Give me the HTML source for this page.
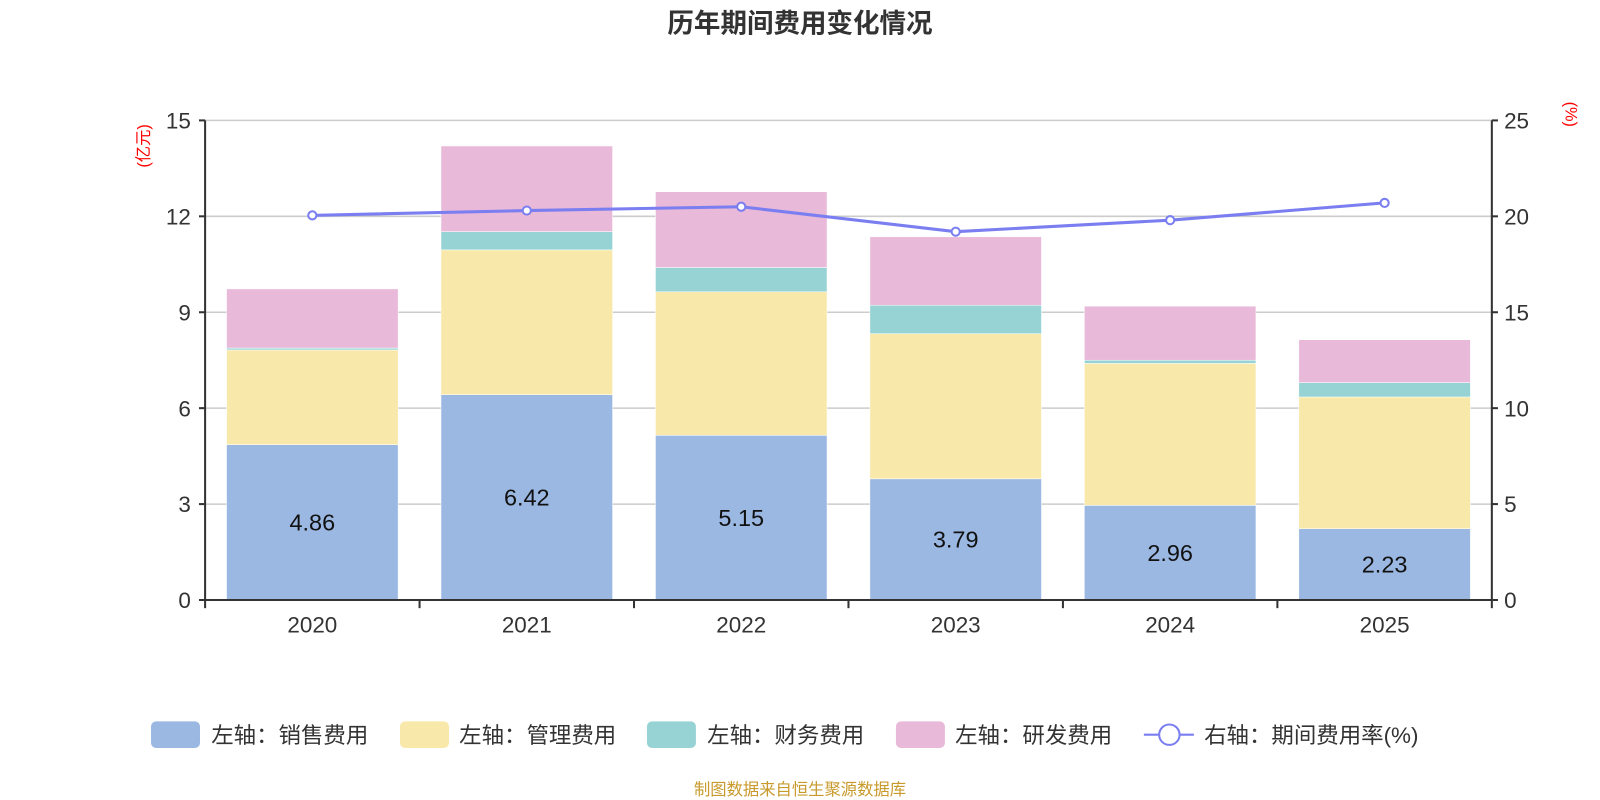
<!DOCTYPE html>
<html><head><meta charset="utf-8"><style>body{margin:0;background:#fff}svg{display:block}</style></head>
<body>
<svg id="chart" width="1600" height="800" viewBox="0 0 1568 784" xmlns="http://www.w3.org/2000/svg" font-family="Liberation Sans, Noto Sans CJK SC, sans-serif">
<text x="784" y="32" text-anchor="middle" font-size="26" font-weight="bold" fill="#333">历年期间费用变化情况</text>
<g id="grid"></g><g id="bars"></g><g id="line"></g><g id="axes"></g>
<text transform="translate(146,143) rotate(-90)" text-anchor="middle" font-size="16" fill="#f00">(亿元)</text>
<text transform="translate(1534,112) rotate(90)" text-anchor="middle" font-size="16" fill="#f00">(%)</text>
<g font-size="22" fill="#333">
<rect x="148" y="707" width="48" height="26" rx="5" fill="#9bb8e2"/>
<text x="207" y="728">左轴：销售费用</text>
<rect x="392" y="707" width="48" height="26" rx="5" fill="#f8e8a9"/>
<text x="450" y="728">左轴：管理费用</text>
<rect x="634" y="707" width="48" height="26" rx="5" fill="#97d3d4"/>
<text x="693" y="728">左轴：财务费用</text>
<rect x="878" y="707" width="48" height="26" rx="5" fill="#e8b9d8"/>
<text x="936" y="728">左轴：研发费用</text>
<line x1="1121" y1="720" x2="1170" y2="720" stroke="#7a7ef0" stroke-width="2"/>
<circle cx="1146" cy="720" r="10" fill="#fff" stroke="#7a7ef0" stroke-width="2"/>
<text x="1180" y="728">右轴：期间费用率(%)</text>
</g>
<text x="784" y="779" text-anchor="middle" font-size="16" fill="#c89a2c">制图数据来自恒生聚源数据库</text>
</svg>
<script>
const categories=["2020","2021","2022","2023","2024","2025"];
const sales=[4.86,6.42,5.15,3.79,2.96,2.23];
const admin=[2.96,4.53,4.49,4.54,4.44,4.12];
const finance=[0.06,0.57,0.76,0.89,0.10,0.45];
const rd=[1.85,2.68,2.37,2.14,1.69,1.34];
const rate=[20.05,20.3,20.5,19.2,19.8,20.7];
const leftTicks=[0,3,6,9,12,15];
const rightTicks=[0,5,10,15,20,25];
const NS="http://www.w3.org/2000/svg";
const X0=201,X1=1462,Y0=588,Y1=118;
const band=(X1-X0)/categories.length;
const yL=v=>Y0-(v/15)*(Y0-Y1);
const yR=v=>Y0-(v/25)*(Y0-Y1);
const xC=i=>X0+band*(i+0.5);
function mk(tag,attrs,parent,text){const e=document.createElementNS(NS,tag);for(const k in attrs)e.setAttribute(k,attrs[k]);if(text!==undefined)e.textContent=text;document.getElementById(parent).appendChild(e);return e;}
leftTicks.forEach((t,i)=>{
 const y=yL(t);
 if(i>0){const g=mk('line',{x1:X0,x2:X1,y1:y,y2:y,stroke:'#ccc','stroke-width':1.5},'grid');
 
 }
 const tl=mk('line',{x1:X0-6,x2:X0,y1:y,y2:y,stroke:'#333','stroke-width':2},'axes');
 
 
 const l=mk('text',{x:X0-14,y:y+8,'text-anchor':'end','font-size':22,fill:'#333'},'axes',t);
 
 
});
rightTicks.forEach(t=>{
 const y=yR(t);
 const tl=mk('line',{x1:X1,x2:X1+6,y1:y,y2:y,stroke:'#333','stroke-width':2},'axes');
 
 
 const l=mk('text',{x:X1+12,y:y+8,'text-anchor':'start','font-size':22,fill:'#333'},'axes',t);
 
 
});
const series=[[sales,'#9bb8e2','sales'],[admin,'#f8e8a9','admin'],[finance,'#97d3d4','finance'],[rd,'#e8b9d8','rd']];
const bw=band*0.8;
categories.forEach((c,i)=>{
 let base=0;
 series.forEach(([arr,col,nm])=>{
  const top=base+arr[i];
  const r=mk('rect',{x:xC(i)-bw/2,y:yL(top),width:bw,height:yL(base)-yL(top),fill:col,stroke:'#fff','stroke-width':0.5},'bars');
  
  
  base=top;
 });
 const v=mk('text',{x:xC(i),y:yL(sales[i]/2)+8,'text-anchor':'middle','font-size':23,fill:'#111'},'bars',sales[i].toFixed(2));
 
 
 const xl=mk('text',{x:xC(i),y:Y0+32,'text-anchor':'middle','font-size':22,fill:'#333'},'axes',c);
 
 
});
for(let i=0;i<=categories.length;i++){
 const x=X0+band*i;
 const t=mk('line',{x1:x,x2:x,y1:Y0,y2:Y0+8,stroke:'#333','stroke-width':2},'axes');
 
 
}
[[X0,Y1,X0,Y0+1,'left-axis-line'],[X1,Y1,X1,Y0+1,'right-axis-line'],[X0,Y0,X1,Y0,'x-axis-line']].forEach(a=>{
 const l=mk('line',{x1:a[0],y1:a[1],x2:a[2],y2:a[3],stroke:'#333','stroke-width':2},'axes');
 
 
});
const pts=rate.map((v,i)=>xC(i)+','+yR(v)).join(' ');
const pl=mk('polyline',{points:pts,fill:'none',stroke:'#7a7ef0','stroke-width':3},'line');


rate.forEach((v,i)=>{
 const p=mk('circle',{cx:xC(i),cy:yR(v),r:4,fill:'#fff',stroke:'#7a7ef0','stroke-width':2},'line');
 
 
});
</script>
</body></html>
